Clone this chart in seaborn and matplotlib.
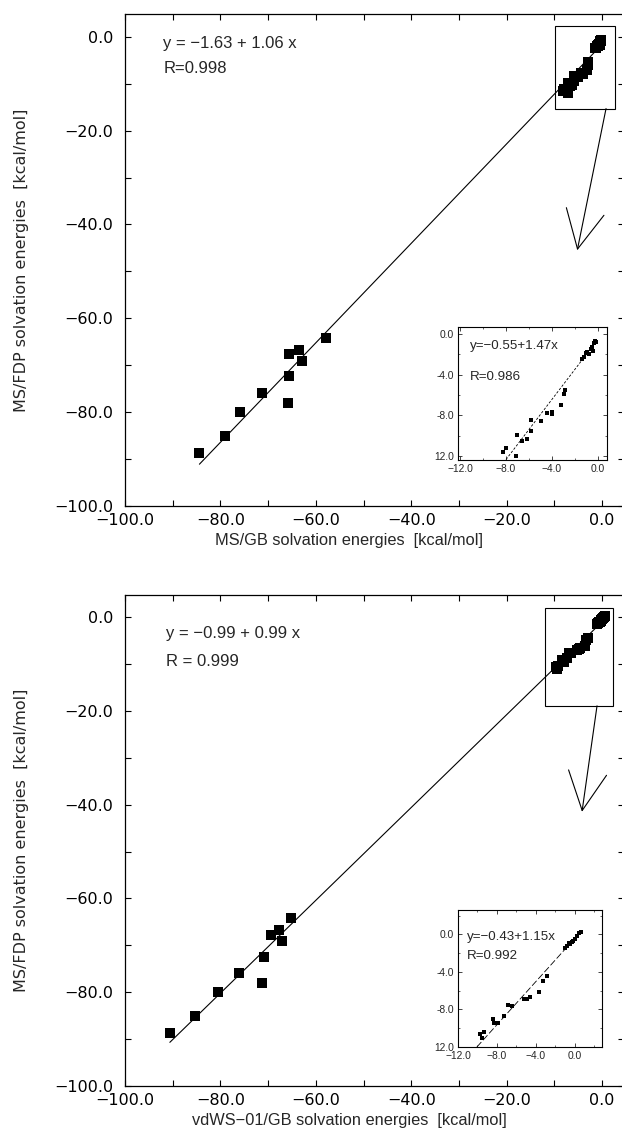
import numpy as np
import pandas as pd
import matplotlib
matplotlib.use("Agg")
import matplotlib.pyplot as plt
import seaborn as sns
from matplotlib.ticker import MultipleLocator, FixedLocator, FixedFormatter
from matplotlib.patches import Rectangle

sns.set_theme(style="ticks")
plt.rcParams['font.family'] = ['DejaVu Sans']
plt.rcParams['axes.unicode_minus'] = True
HELV = ['Liberation Sans', 'DejaVu Sans']

# ---------------- data ----------------
# large molecules: MS/FDP energies (y, shared by both panels)
big_y = [-88.7, -85.1, -80.0, -75.9, -78.0, -72.4, -67.7, -66.8, -69.0, -64.1]
big_x_top = [-84.4, -79.0, -75.8, -71.3, -65.9, -65.6, -65.6, -63.6, -62.9, -57.8]   # MS/GB
big_x_bot = [-90.6, -85.4, -80.6, -76.1, -71.3, -70.9, -69.3, -67.7, -67.0, -65.1]   # vdWS-01/GB

# small molecules (inset of the top panel)
small_x_top = [-8.23, -8.00, -7.13, -7.07, -6.63, -6.20, -5.83, -5.83, -4.98, -4.46, -4.00, -4.00, -3.24,
               -2.96, -2.84, -1.37, -1.22, -1.04, -0.93, -0.76, -0.63, -0.52, -0.46, -0.35, -0.26, -0.17]
small_y_top = [-11.59, -11.20, -11.91, -9.95, -10.51, -10.34, -9.49, -8.41, -8.51, -7.79, -7.70, -7.89, -7.01,
               -5.93, -5.47, -2.50, -2.33, -1.94, -1.78, -2.04, -1.55, -1.29, -1.69, -0.96, -0.71, -0.80]

# small molecules (inset of the bottom panel)
small_x_bot = [0.64, 0.39, 0.22, 0.05, -0.13, -0.29, -0.46, -0.60, -0.80, -0.98,
               -2.86, -3.27, -3.65, -4.65, -4.91, -5.19, -6.50, -6.90, -7.30, -8.45, -8.30, -7.90, -9.30, -9.70, -9.50]
small_y_bot = [0.28, 0.10, -0.15, -0.45, -0.68, -0.85, -1.05, -0.95, -1.25, -1.45,
               -4.40, -4.95, -6.10, -6.65, -6.85, -6.90, -7.65, -7.55, -8.65, -9.05, -9.45, -9.45, -10.35, -10.65, -11.05]

# fit equations
fit_top = (-1.63, 1.06)
fit_bot = (-0.99, 0.99)
fit_top_inset = (-0.55, 1.47)
fit_bot_inset = (-0.43, 1.15)

eq_top = ["y = \u22121.63 + 1.06 x", "R=0.998"]
eq_bot = ["y = \u22120.99 + 0.99 x", "R = 0.999"]
eq_top_inset = ["y=\u22120.55+1.47x", "R=0.986"]
eq_bot_inset = ["y=\u22120.43+1.15x", "R=0.992"]

main_ticks = [-100, -80, -60, -40, -20, 0]
main_labels = ["\u2212100.0", "\u221280.0", "\u221260.0", "\u221240.0", "\u221220.0", "0.0"]
inset_ticks = [-12, -8, -4, 0]
inset_xlabels = ["\u221212.0", "\u22128.0", "\u22124.0", "0.0"]
inset_ylabels = ["12.0", "-8.0", "-4.0", "0.0"]

xlabel_top = "MS/GB solvation energies  [kcal/mol]"
xlabel_bot = "vdWS\u221201/GB solvation energies  [kcal/mol]"
ylabel = "MS/FDP solvation energies  [kcal/mol]"

W, H = 622, 1134
fig = plt.figure(figsize=(W / 100, H / 100), dpi=100)
fig.patch.set_facecolor("white")

def px_axes(l, t, r, b):
    return fig.add_axes([l / W, 1 - b / H, (r - l) / W, (b - t) / H])

FS = 11.5
FS_EQ = 12

def style_main(ax, xlabel):
    ax.set_facecolor("white")
    ax.set_xlim(-100, 4.5)
    ax.set_ylim(-100, 4.85)
    ax.xaxis.set_major_locator(FixedLocator(main_ticks))
    ax.xaxis.set_major_formatter(FixedFormatter(main_labels))
    ax.yaxis.set_major_locator(FixedLocator(main_ticks))
    ax.yaxis.set_major_formatter(FixedFormatter(main_labels))
    ax.xaxis.set_minor_locator(MultipleLocator(10))
    ax.yaxis.set_minor_locator(MultipleLocator(10))
    ax.tick_params(which="both", direction="in", top=True, right=True, length=4, width=0.8,
                   labelsize=FS, colors="black")
    ax.tick_params(axis="y", which="major", pad=8.4)
    ax.tick_params(axis="x", which="major", pad=5)
    for s in ax.spines.values():
        s.set_visible(True)
        s.set_linewidth(0.9)
        s.set_color("black")
    ax.set_xlabel(xlabel, fontsize=11.8, labelpad=4, family=HELV)
    ax.xaxis.label.set_x(0.45)
    ax.set_ylabel(ylabel, fontsize=FS, labelpad=18)

def style_inset(ax, xlim, ylim):
    ax.set_facecolor("white")
    ax.set_xlim(*xlim)
    ax.set_ylim(*ylim)
    ax.xaxis.set_major_locator(FixedLocator(inset_ticks))
    ax.xaxis.set_major_formatter(FixedFormatter(inset_xlabels))
    ax.yaxis.set_major_locator(FixedLocator(inset_ticks))
    ax.yaxis.set_major_formatter(FixedFormatter(inset_ylabels))
    ax.xaxis.set_minor_locator(MultipleLocator(2))
    ax.yaxis.set_minor_locator(MultipleLocator(2))
    ax.tick_params(which="major", direction="in", top=True, right=True, length=3, width=0.6,
                   labelsize=7.4, pad=3)
    ax.tick_params(which="minor", direction="in", top=True, right=True, length=1.5, width=0.5)
    for lab in ax.get_xticklabels() + ax.get_yticklabels():
        lab.set_family(HELV)
    for s in ax.spines.values():
        s.set_visible(True)
        s.set_linewidth(0.8)
        s.set_color("black")
    ax.set_xlabel("")
    ax.set_ylabel("")

def panel(ax, bx, by, sx, sy, fit, eqs, eqpos, xlabel, box, arrow):
    allx = list(bx) + list(sx)
    ally = list(by) + list(sy)
    a, b = fit
    xl = np.array([min(allx), max(allx)])
    line = pd.DataFrame({"x": xl, "y": a + b * xl})
    sns.lineplot(data=line, x="x", y="y", ax=ax, color="black", lw=0.8, sort=False, estimator=None)
    pts = pd.DataFrame({"x": allx, "y": ally})
    sns.scatterplot(data=pts, x="x", y="y", ax=ax, marker="s", s=42, color="black", linewidth=0, zorder=3)
    style_main(ax, xlabel)
    ax.text(eqpos[0], eqpos[1], eqs[0], fontsize=FS_EQ, va="center", ha="left", family=HELV)
    ax.text(eqpos[0], eqpos[2], eqs[1], fontsize=FS_EQ, va="center", ha="left", family=HELV)
    x0, x1, y0, y1 = box
    ax.add_patch(Rectangle((x0, y0), x1 - x0, y1 - y0, fill=False, lw=0.8, ec="black", zorder=4))
    (sxa, sya), (txa, tya) = arrow
    ax.annotate("", xy=(txa, tya), xytext=(sxa, sya),
                arrowprops=dict(arrowstyle="->,head_length=2.3,head_width=1.15", lw=0.8,
                                color="black", shrinkA=0, shrinkB=0))

def inset(ax, sx, sy, fit, eqs, xlim, ylim, eqy, dash):
    a, b = fit
    x_lo = max(xlim[0], (ylim[0] - a) / b)
    xl = np.array([x_lo, max(sx)])
    line = pd.DataFrame({"x": xl, "y": a + b * xl})
    sns.lineplot(data=line, x="x", y="y", ax=ax, color="black", lw=0.6, sort=False, estimator=None,
                 dashes=False, linestyle=dash)
    pts = pd.DataFrame({"x": sx, "y": sy})
    sns.scatterplot(data=pts, x="x", y="y", ax=ax, marker="s", s=7, color="black", linewidth=0, zorder=3)
    style_inset(ax, xlim, ylim)
    ax.text(eqy[0], eqy[1], eqs[0], fontsize=9.6, va="center", ha="left", transform=ax.transAxes,
            family=HELV)
    ax.text(eqy[0], eqy[2], eqs[1], fontsize=9.6, va="center", ha="left", transform=ax.transAxes,
            family=HELV)

# top panel
ax1 = px_axes(125, 14, 623.5, 506)
panel(ax1, big_x_top, big_y, small_x_top, small_y_top, fit_top, eq_top, (-92.0, -1.45, -6.8),
      xlabel_top, (-9.8, 2.7, -15.3, 2.2), ((0.84, -15.3), (-5.19, -45.5)))

# bottom panel
ax2 = px_axes(125, 594.5, 623.5, 1086)
panel(ax2, big_x_bot, big_y, small_x_bot, small_y_bot, fit_bot, eq_bot, (-91.5, -3.5, -9.5),
      xlabel_bot, (-12.0, 2.4, -18.9, 2.0), ((-1.05, -18.9), (-4.2, -41.5)))

# insets
ins1 = px_axes(458, 326.7, 606.7, 459.5)
inset(ins1, small_x_top, small_y_top, fit_top_inset, eq_top_inset, (-12.17, 0.76), (-12.3, 0.67),
      (0.08, 0.855, 0.62), (0, (3, 2)))

ins2 = px_axes(458, 910, 602, 1047)
inset(ins2, small_x_bot, small_y_bot, fit_bot_inset, eq_bot_inset, (-12, 2.8), (-12, 2.6),
      (0.065, 0.80, 0.664), (0, (8, 3)))

fig.savefig("out.png", dpi=100, facecolor="white")
